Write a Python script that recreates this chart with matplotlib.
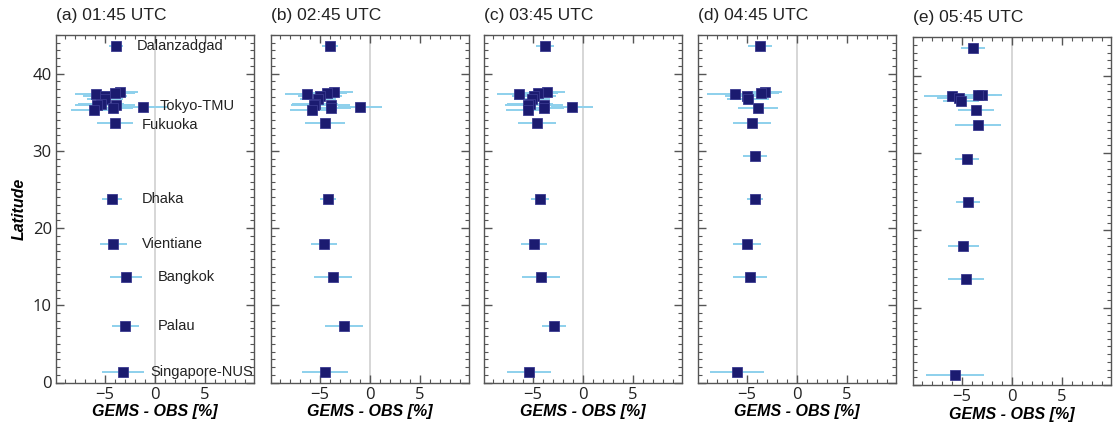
import numpy as np
import matplotlib.pyplot as plt
from matplotlib.ticker import MultipleLocator

nan = np.nan

# station latitudes (10 Korean sites clustered around 35-38N)
lats = [43.6, 37.56, 37.5, 37.4, 37.15, 36.75, 36.1, 36.0, 35.95, 35.6, 35.3,
        35.7, 33.6, 29.3, 23.7, 18.0, 13.7, 7.3, 1.3]
names = ["Dalanzadgad", "", "", "", "", "", "", "", "", "", "",
         "Tokyo-TMU", "Fukuoka", "", "Dhaka", "Vientiane", "Bangkok", "Palau", "Singapore-NUS"]
label_x = [-1.8, 0, 0, 0, 0, 0, 0, 0, 0, 0, 0,
           0.5, -1.3, 0, -1.3, -1.3, 0.3, 0.3, -0.5]
label_dy = [0, 0, 0, 0, 0, 0, 0, 0, 0, 0, 0, 0.1, -0.3, 0, 0, 0, 0, 0, 0]

titles = ["(a) 01:45 UTC", "(b) 02:45 UTC", "(c) 03:45 UTC", "(d) 04:45 UTC", "(e) 05:45 UTC"]

bias_a = [-3.9, -3.5, -4.0, -5.9, -5.0, -5.0, -5.4, -5.8, -3.9, -4.2, -6.1,
          -1.2, -4.0, nan, -4.3, -4.2, -2.9, -3.0, -3.2]
err_a = [0.7, 1.8, 2.0, 2.1, 2.2, 1.8, 2.3, 2.2, 1.9, 2.0, 2.3,
         2.5, 1.8, nan, 1.0, 1.35, 1.6, 1.35, 2.1]

bias_b = [-4.0, -3.6, -4.3, -6.3, -5.0, -5.2, -5.5, -5.6, -3.9, -3.9, -5.8,
          -1.0, -4.5, nan, -4.2, -4.6, -3.7, -2.6, -4.5]
err_b = [0.8, 1.9, 2.0, 2.2, 2.2, 1.8, 2.3, 2.3, 1.9, 2.0, 2.2,
         2.2, 2.0, nan, 0.8, 1.3, 1.9, 1.9, 2.3]

bias_c = [-3.8, -3.6, -4.5, -6.4, -4.9, -5.1, -5.3, -5.5, -3.9, -3.9, -5.5,
          -1.1, -4.6, nan, -4.3, -4.9, -4.2, -2.9, -5.4]
err_c = [0.9, 1.8, 2.0, 2.2, 2.2, 1.8, 2.3, 2.3, 1.9, 2.0, 2.2,
         2.1, 1.9, nan, 0.9, 1.3, 1.9, 1.2, 2.2]

bias_d = [-3.7, -3.2, -3.6, -6.2, -5.0, -4.9, nan, nan, nan, -3.9, nan,
          nan, -4.5, -4.2, -4.2, -5.0, -4.7, nan, -6.0]
err_d = [1.2, 1.7, 1.8, 2.8, 2.2, 2.1, nan, nan, nan, 2.0, nan,
         nan, 1.9, 1.2, 0.8, 1.4, 1.7, nan, 2.7]

bias_e = [-3.9, -3.0, -3.4, -6.0, -5.3, -5.1, nan, nan, nan, -3.6, nan,
          nan, -3.4, -4.5, -4.4, -4.9, -4.6, nan, -5.7]
err_e = [1.2, 2.0, 1.8, 2.8, 2.2, 1.8, nan, nan, nan, 1.8, nan,
         nan, 2.3, 1.2, 1.2, 1.55, 1.8, nan, 2.9]

biases = [bias_a, bias_b, bias_c, bias_d, bias_e]
errs = [err_a, err_b, err_c, err_d, err_e]

plt.rcParams['font.family'] = ['Liberation Sans', 'DejaVu Sans']

fig = plt.figure(figsize=(11.16, 4.26), dpi=100)
lefts = [56, 271, 484, 698, 913]
bottoms = [382.5, 382.5, 382.5, 382.5, 385]
tops = [35, 35, 35, 35, 37.3]
W, H = 1116, 426

for i in range(5):
    ax = fig.add_axes([lefts[i] / W, 1 - bottoms[i] / H, 198 / W, (bottoms[i] - tops[i]) / H])
    ax.axvline(0, color='#cfcfcf', lw=1.2, zorder=1)
    ax.errorbar(biases[i], lats, xerr=errs[i], fmt='s', color='#1b1b70',
                ms=6.5, mec='#3a3a90', mew=0.6, ecolor='#8dd0ec', elinewidth=1.4,
                capsize=0, zorder=3)
    ax.set_xlim(-9.9, 9.9)
    ax.set_ylim(0, 45)
    ax.xaxis.set_major_locator(MultipleLocator(5))
    ax.xaxis.set_minor_locator(MultipleLocator(1))
    ax.yaxis.set_major_locator(MultipleLocator(10))
    ax.yaxis.set_minor_locator(MultipleLocator(1))
    ax.tick_params(which='both', direction='in', top=True, right=True, color='#555555')
    ax.tick_params(which='major', length=6, width=1)
    ax.tick_params(which='minor', length=3, width=0.8)
    ax.tick_params(labelsize=12, labelcolor='#222222', pad=3)
    for lab in ax.get_xticklabels() + ax.get_yticklabels():
        lab.set_family(['Open Sans', 'DejaVu Sans'])
    for s in ax.spines.values():
        s.set_color('#555555')
        s.set_linewidth(1.0)
    ax.set_title(titles[i], loc='left', fontsize=12.5, pad=11, color='#222222')
    ax.set_xlabel('GEMS - OBS [%]', fontsize=11.5, fontweight='bold', style='italic', labelpad=1)
    if i == 0:
        ax.set_ylabel('Latitude', fontsize=11.5, fontweight='bold', style='italic', labelpad=4)
        for name, lx, la, dy in zip(names, label_x, lats, label_dy):
            if name:
                ax.text(lx, la + dy, name, fontsize=10.5, va='center', ha='left', color='#222222')
    else:
        ax.tick_params(labelleft=False)

fig.savefig('out.png', dpi=100)
